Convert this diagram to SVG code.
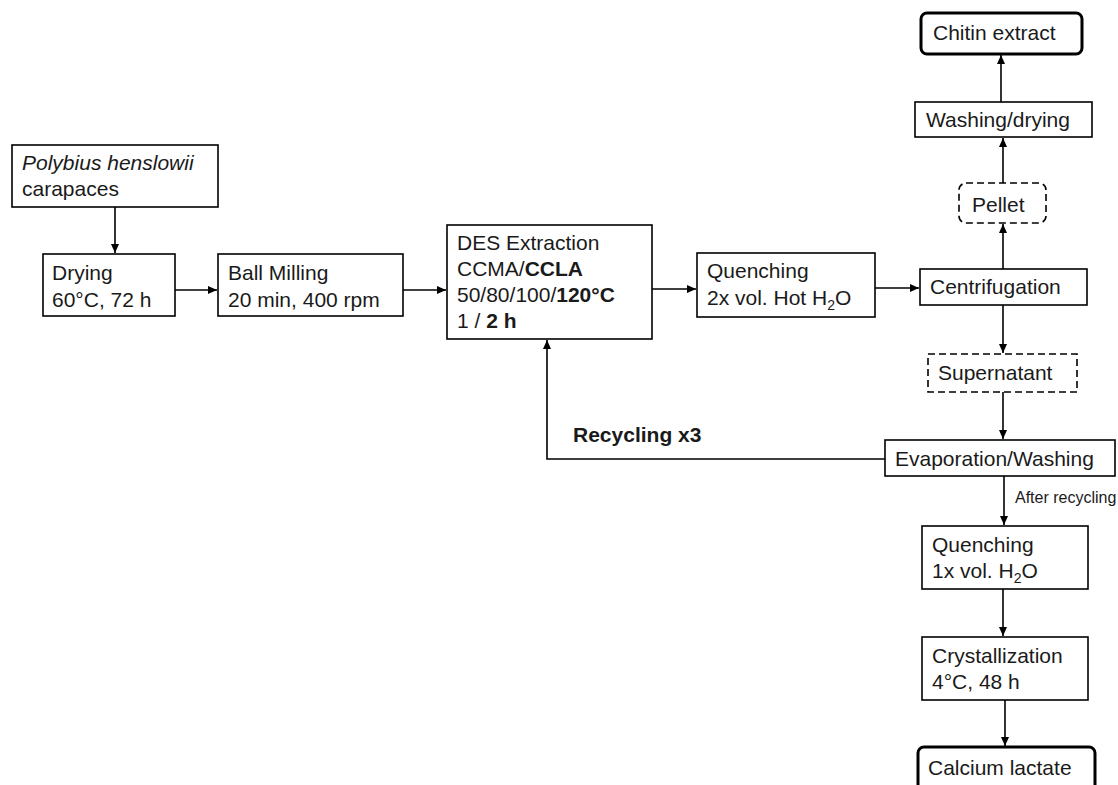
<svg xmlns="http://www.w3.org/2000/svg" width="1118" height="785" viewBox="0 0 1118 785">
<style>
text{font-family:"Liberation Sans",Arial,sans-serif;font-size:21px;fill:#1a1a1a}
.b{fill:#fff;stroke:#000;stroke-width:1.6}
.t{fill:#fff;stroke:#000;stroke-width:3}
.d{fill:#fff;stroke:#000;stroke-width:1.6;stroke-dasharray:7 4}
.c{fill:none;stroke:#000;stroke-width:1.6}
.bold{font-weight:bold}
.sub{font-size:14px}
</style>
<defs>
<marker id="ah" markerUnits="userSpaceOnUse" markerWidth="10" markerHeight="8" refX="9" refY="4" orient="auto">
<path d="M0,0 L9,4 L0,8 z" fill="#000"/>
</marker>
</defs>
<rect width="1118" height="785" fill="#fff"/>
<g id="connectors">
<line class="c" x1="115" y1="207" x2="115" y2="253" marker-end="url(#ah)"/>
<line class="c" x1="175" y1="290" x2="217" y2="290" marker-end="url(#ah)"/>
<line class="c" x1="403" y1="290" x2="446" y2="290" marker-end="url(#ah)"/>
<line class="c" x1="652" y1="289" x2="696" y2="289" marker-end="url(#ah)"/>
<line class="c" x1="875" y1="288" x2="919" y2="288" marker-end="url(#ah)"/>
<line class="c" x1="1003" y1="269" x2="1003" y2="224" marker-end="url(#ah)"/>
<line class="c" x1="1003" y1="183" x2="1003" y2="138" marker-end="url(#ah)"/>
<line class="c" x1="1001" y1="102" x2="1001" y2="55" marker-end="url(#ah)"/>
<line class="c" x1="1003" y1="305" x2="1003" y2="353" marker-end="url(#ah)"/>
<line class="c" x1="1003" y1="392" x2="1003" y2="439" marker-end="url(#ah)"/>
<path class="c" d="M885,459 H547 V340" marker-end="url(#ah)"/>
<line class="c" x1="1004" y1="476" x2="1004" y2="525" marker-end="url(#ah)"/>
<line class="c" x1="1003" y1="589" x2="1003" y2="636" marker-end="url(#ah)"/>
<line class="c" x1="1005" y1="700" x2="1005" y2="746" marker-end="url(#ah)"/>
<text class="bold" x="573" y="442">Recycling x3</text>
<text x="1015" y="503" style="font-size:16px">After recycling</text>
</g>
<g id="polybius">
<rect class="b" x="12" y="145" width="206" height="62"/>
<text x="22" y="170"><tspan font-style="italic">Polybius henslowii</tspan></text>
<text x="22" y="196">carapaces</text>
</g>
<g id="drying">
<rect class="b" x="43" y="254" width="132" height="62"/>
<text x="52" y="280">Drying</text>
<text x="52" y="307">60°C, 72 h</text>
</g>
<g id="ballmilling">
<rect class="b" x="218" y="254" width="185" height="62"/>
<text x="228" y="280">Ball Milling</text>
<text x="228" y="307">20 min, 400 rpm</text>
</g>
<g id="des">
<rect class="b" x="447" y="225" width="205" height="114"/>
<text x="457" y="250">DES Extraction</text>
<text x="457" y="276">CCMA/<tspan class="bold">CCLA</tspan></text>
<text x="457" y="302">50/80/100/<tspan class="bold">120°C</tspan></text>
<text x="457" y="328">1 / <tspan class="bold">2 h</tspan></text>
</g>
<g id="quenching1">
<rect class="b" x="697" y="253" width="178" height="64"/>
<text x="707" y="278">Quenching</text>
<text x="707" y="305">2x vol. Hot H<tspan class="sub" dy="5">2</tspan><tspan dy="-5">O</tspan></text>
</g>
<g id="centrifugation">
<rect class="b" x="920" y="269" width="167" height="36"/>
<text x="930" y="294">Centrifugation</text>
</g>
<g id="pellet">
<rect class="d" x="959" y="183" width="87" height="40" rx="7"/>
<text x="972" y="212">Pellet</text>
</g>
<g id="washing">
<rect class="b" x="915" y="102" width="177" height="35"/>
<text x="926" y="127">Washing/drying</text>
</g>
<g id="chitin">
<rect class="t" x="921" y="13" width="161" height="41" rx="6"/>
<text x="933" y="40">Chitin extract</text>
</g>
<g id="supernatant">
<rect class="d" x="928" y="354" width="149" height="38"/>
<text x="938" y="380">Supernatant</text>
</g>
<g id="evaporation">
<rect class="b" x="885" y="440" width="230" height="36"/>
<text x="895" y="466">Evaporation/Washing</text>
</g>
<g id="quenching2">
<rect class="b" x="922" y="526" width="166" height="63"/>
<text x="932" y="552">Quenching</text>
<text x="932" y="578">1x vol. H<tspan class="sub" dy="5">2</tspan><tspan dy="-5">O</tspan></text>
</g>
<g id="crystallization">
<rect class="b" x="922" y="637" width="166" height="63"/>
<text x="932" y="663">Crystallization</text>
<text x="932" y="689">4°C, 48 h</text>
</g>
<g id="calcium">
<rect class="t" x="918" y="747" width="177" height="50" rx="6"/>
<text x="928" y="775">Calcium lactate</text>
</g>
</svg>
